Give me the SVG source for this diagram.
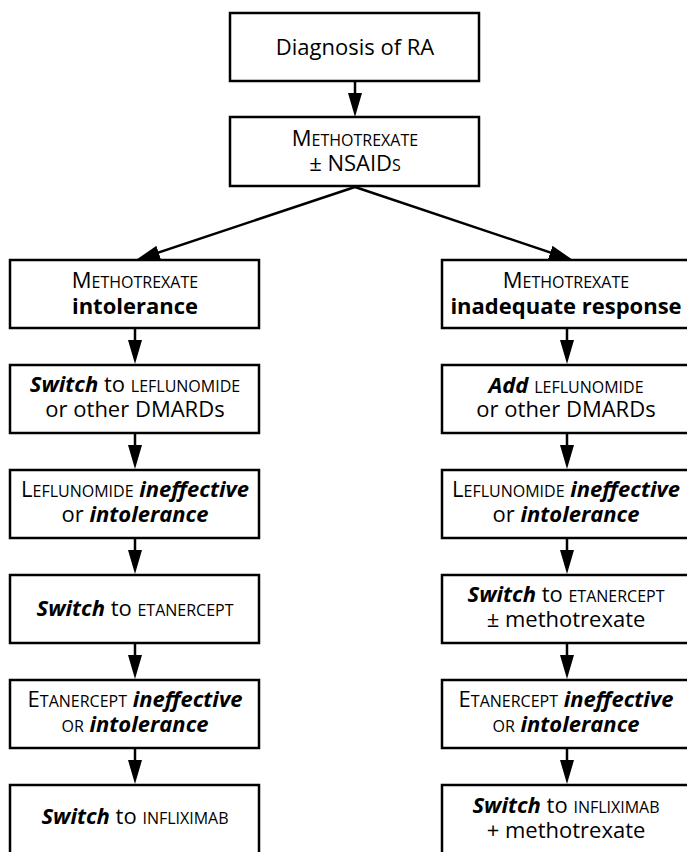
<svg xmlns="http://www.w3.org/2000/svg" width="687" height="852" viewBox="0 0 687 852">
<style>
.box{fill:#fff;stroke:#000;stroke-width:2.5}
.t{font-family:"Open Sans","Noto Sans",sans-serif;font-size:22px;fill:#000;text-anchor:middle}
.sc{font-size:16px}
.b{font-weight:bold}
.bi{font-weight:bold;font-style:italic}
.con{stroke:#000;stroke-width:2.5;fill:none}
</style>
<defs>
<marker id="ah" viewBox="0 0 24 14" refX="14" refY="7" markerWidth="24" markerHeight="14" markerUnits="userSpaceOnUse" orient="auto">
<path d="M0,0 L24,7 L0,14 z" fill="#000"/>
</marker>
</defs>
<rect width="687" height="852" fill="#fff"/>
<g id="connectors">
<path class="con" d="M355,82 V107" marker-end="url(#ah)"/>
<path class="con" d="M355,187 L145.3,256.9" marker-end="url(#ah)"/>
<path class="con" d="M355,187 L563.5,256.9" marker-end="url(#ah)"/>
<path class="con" d="M135,329 V354" marker-end="url(#ah)"/>
<path class="con" d="M135,434 V459" marker-end="url(#ah)"/>
<path class="con" d="M135,539 V564" marker-end="url(#ah)"/>
<path class="con" d="M135,644 V669" marker-end="url(#ah)"/>
<path class="con" d="M135,749 V774" marker-end="url(#ah)"/>
<path class="con" d="M567,329 V354" marker-end="url(#ah)"/>
<path class="con" d="M567,434 V459" marker-end="url(#ah)"/>
<path class="con" d="M567,539 V564" marker-end="url(#ah)"/>
<path class="con" d="M567,644 V669" marker-end="url(#ah)"/>
<path class="con" d="M567,749 V774" marker-end="url(#ah)"/>
</g>
<g id="n-diagnosis">
<rect class="box" x="230" y="13" width="249" height="68"/>
<text class="t" x="355" y="55">Diagnosis of RA</text>
</g>
<g id="n-mtx">
<rect class="box" x="230" y="117" width="249" height="69"/>
<text class="t" x="355" y="146">M<tspan class="sc">ETHOTREXATE</tspan></text>
<text class="t" x="355" y="171">± NSAID<tspan class="sc">S</tspan></text>
</g>
<g id="n-l1">
<rect class="box" x="10" y="260" width="249" height="68"/>
<text class="t" x="135" y="288">M<tspan class="sc">ETHOTREXATE</tspan></text>
<text class="t b" x="135" y="314">intolerance</text>
</g>
<g id="n-l2">
<rect class="box" x="10" y="365" width="249" height="68"/>
<text class="t" x="135" y="392"><tspan class="bi">Switch</tspan> to <tspan class="sc">LEFLUNOMIDE</tspan></text>
<text class="t" x="135" y="417">or other DMARDs</text>
</g>
<g id="n-l3">
<rect class="box" x="10" y="470" width="249" height="68"/>
<text class="t" x="135" y="497">L<tspan class="sc">EFLUNOMIDE</tspan> <tspan class="bi">ineffective</tspan></text>
<text class="t" x="135" y="522">or <tspan class="bi">intolerance</tspan></text>
</g>
<g id="n-l4">
<rect class="box" x="10" y="575" width="249" height="68"/>
<text class="t" x="135" y="616"><tspan class="bi">Switch</tspan> to <tspan class="sc">ETANERCEPT</tspan></text>
</g>
<g id="n-l5">
<rect class="box" x="10" y="680" width="249" height="68"/>
<text class="t" x="135" y="707">E<tspan class="sc">TANERCEPT</tspan> <tspan class="bi">ineffective</tspan></text>
<text class="t" x="135" y="732"><tspan class="sc">OR</tspan> <tspan class="bi">intolerance</tspan></text>
</g>
<g id="n-l6">
<rect class="box" x="10" y="785" width="249" height="70"/>
<text class="t" x="135" y="824"><tspan class="bi">Switch</tspan> to <tspan class="sc">INFLIXIMAB</tspan></text>
</g>
<g id="n-r1">
<rect class="box" x="442" y="260" width="250" height="68"/>
<text class="t" x="566" y="288">M<tspan class="sc">ETHOTREXATE</tspan></text>
<text class="t b" x="566" y="314">inadequate response</text>
</g>
<g id="n-r2">
<rect class="box" x="442" y="365" width="250" height="68"/>
<text class="t" x="566" y="393"><tspan class="bi">Add</tspan> <tspan class="sc">LEFLUNOMIDE</tspan></text>
<text class="t" x="566" y="417">or other DMARDs</text>
</g>
<g id="n-r3">
<rect class="box" x="442" y="470" width="250" height="68"/>
<text class="t" x="566" y="497">L<tspan class="sc">EFLUNOMIDE</tspan> <tspan class="bi">ineffective</tspan></text>
<text class="t" x="566" y="522">or <tspan class="bi">intolerance</tspan></text>
</g>
<g id="n-r4">
<rect class="box" x="442" y="575" width="250" height="68"/>
<text class="t" x="566" y="602"><tspan class="bi">Switch</tspan> to <tspan class="sc">ETANERCEPT</tspan></text>
<text class="t" x="566" y="627">± methotrexate</text>
</g>
<g id="n-r5">
<rect class="box" x="442" y="680" width="250" height="68"/>
<text class="t" x="566" y="707">E<tspan class="sc">TANERCEPT</tspan> <tspan class="bi">ineffective</tspan></text>
<text class="t" x="566" y="732"><tspan class="sc">OR</tspan> <tspan class="bi">intolerance</tspan></text>
</g>
<g id="n-r6">
<rect class="box" x="442" y="785" width="250" height="70"/>
<text class="t" x="566" y="813"><tspan class="bi">Switch</tspan> to <tspan class="sc">INFLIXIMAB</tspan></text>
<text class="t" x="566" y="838">+ methotrexate</text>
</g>
</svg>
